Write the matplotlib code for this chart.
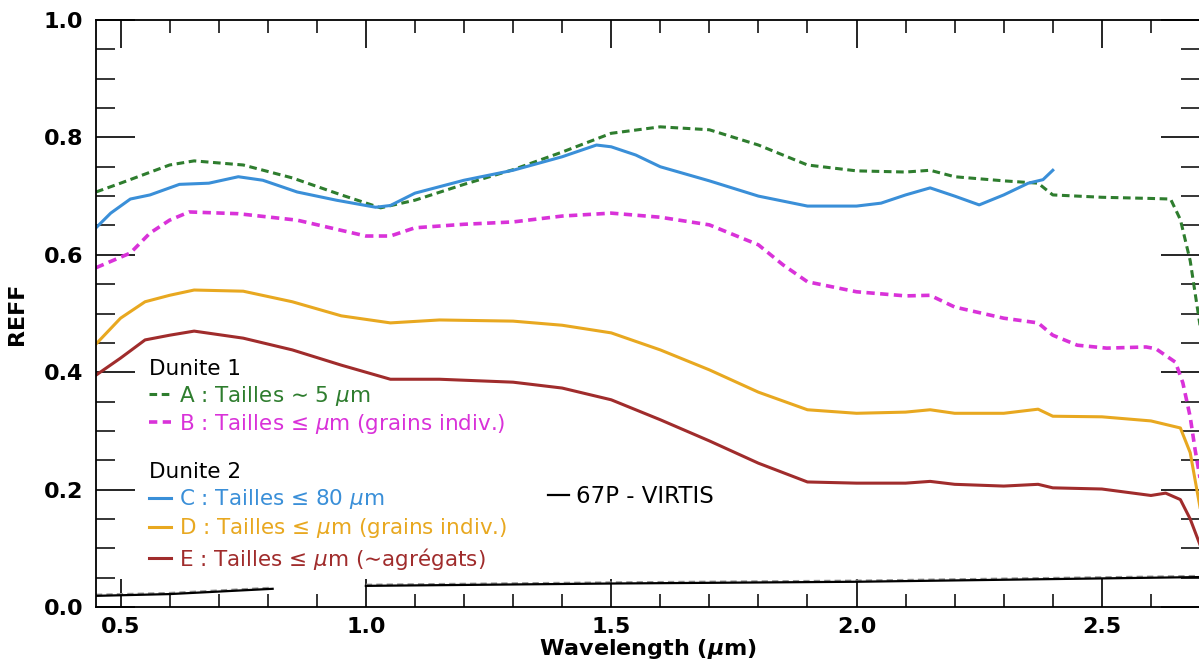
import matplotlib
matplotlib.use("Agg")
import matplotlib.pyplot as plt
import numpy as np

plt.rcParams['font.family'] = ['DejaVu Sans']
plt.rcParams['mathtext.fontset'] = 'custom'
plt.rcParams['mathtext.rm'] = 'DejaVu Sans'
plt.rcParams['mathtext.it'] = 'DejaVu Sans:italic'
plt.rcParams['mathtext.bf'] = 'DejaVu Sans:bold'
plt.rcParams['mathtext.bfit'] = 'DejaVu Sans:italic:bold'

# ---------------- data ----------------
wl_A = [0.45, 0.50, 0.60, 0.65, 0.75, 0.85, 0.95, 1.03, 1.10, 1.20, 1.30, 1.40, 1.50, 1.60,
        1.70, 1.80, 1.90, 2.00, 2.10, 2.15, 2.20, 2.30, 2.37, 2.40, 2.50, 2.60, 2.64, 2.66,
        2.68, 2.70]
ref_A = [0.707, 0.722, 0.753, 0.760, 0.753, 0.731, 0.702, 0.680, 0.693, 0.720, 0.745, 0.775,
         0.807, 0.818, 0.813, 0.787, 0.753, 0.743, 0.741, 0.744, 0.733, 0.726, 0.722, 0.702,
         0.698, 0.696, 0.695, 0.660, 0.590, 0.480]

wl_B = [0.45, 0.52, 0.56, 0.60, 0.64, 0.74, 0.86, 1.00, 1.05, 1.10, 1.20, 1.30, 1.40, 1.50,
        1.60, 1.70, 1.80, 1.85, 1.90, 2.00, 2.10, 2.15, 2.20, 2.30, 2.37, 2.40, 2.45, 2.51,
        2.59, 2.61, 2.65, 2.665, 2.68, 2.69, 2.70]
ref_B = [0.578, 0.603, 0.637, 0.659, 0.673, 0.670, 0.659, 0.632, 0.632, 0.646, 0.652, 0.656,
         0.666, 0.671, 0.664, 0.651, 0.617, 0.583, 0.554, 0.537, 0.530, 0.531, 0.511, 0.492,
         0.484, 0.463, 0.446, 0.441, 0.443, 0.440, 0.417, 0.382, 0.324, 0.268, 0.220]

wl_C = [0.45, 0.48, 0.52, 0.56, 0.62, 0.68, 0.74, 0.79, 0.86, 0.94, 1.02, 1.05, 1.10, 1.20,
        1.30, 1.40, 1.47, 1.50, 1.55, 1.60, 1.70, 1.80, 1.90, 2.00, 2.05, 2.10, 2.15, 2.20,
        2.25, 2.30, 2.35, 2.38, 2.40]
ref_C = [0.646, 0.671, 0.695, 0.702, 0.720, 0.722, 0.733, 0.727, 0.707, 0.693, 0.681, 0.684,
         0.705, 0.727, 0.744, 0.767, 0.787, 0.784, 0.770, 0.750, 0.726, 0.700, 0.683, 0.683,
         0.688, 0.702, 0.714, 0.700, 0.685, 0.702, 0.722, 0.728, 0.744]

wl_D = [0.45, 0.50, 0.55, 0.60, 0.65, 0.75, 0.85, 0.95, 1.05, 1.15, 1.30, 1.40, 1.50, 1.60,
        1.70, 1.80, 1.90, 2.00, 2.10, 2.15, 2.20, 2.30, 2.37, 2.40, 2.50, 2.60, 2.66, 2.68,
        2.70]
ref_D = [0.448, 0.492, 0.520, 0.531, 0.540, 0.538, 0.520, 0.496, 0.484, 0.489, 0.487, 0.480,
         0.467, 0.438, 0.404, 0.366, 0.336, 0.330, 0.332, 0.336, 0.330, 0.330, 0.337, 0.325,
         0.324, 0.317, 0.305, 0.263, 0.170]

wl_E = [0.45, 0.50, 0.55, 0.60, 0.65, 0.75, 0.85, 0.95, 1.05, 1.15, 1.30, 1.40, 1.50, 1.60,
        1.70, 1.80, 1.90, 2.00, 2.10, 2.15, 2.20, 2.30, 2.37, 2.40, 2.50, 2.60, 2.63, 2.66,
        2.68, 2.70]
ref_E = [0.395, 0.424, 0.455, 0.463, 0.470, 0.458, 0.438, 0.412, 0.388, 0.388, 0.383, 0.373,
         0.353, 0.319, 0.283, 0.245, 0.213, 0.211, 0.211, 0.214, 0.209, 0.206, 0.209, 0.203,
         0.201, 0.190, 0.194, 0.183, 0.150, 0.106]

wl_V1 = [0.45, 0.60, 0.81]
ref_V1 = [0.019, 0.022, 0.031]
wl_V2 = [1.00, 1.50, 2.00, 2.70]
ref_V2 = [0.036, 0.040, 0.043, 0.051]

labels_1 = ["A : Tailles \u223c 5 $\\mu$m", "B : Tailles \u2264 $\\mu$m (grains indiv.)"]
labels_2 = ["C : Tailles \u2264 80 $\\mu$m", "D : Tailles \u2264 $\\mu$m (grains indiv.)",
            "E : Tailles \u2264 $\\mu$m (\u223cagr\u00e9gats)"]
label_V = "67P - VIRTIS"

c_A, c_B, c_C, c_D, c_E = "#2e7d2e", "#d932d9", "#3a8fd8", "#e8a820", "#a02c2c"

# ---------------- figure ----------------
fig = plt.figure(figsize=(11.99, 6.63), dpi=100)
ax = fig.add_axes([96 / 1199, 56 / 663, 1104 / 1199, 587 / 663])

lw = 2.2
lA, = ax.plot(wl_A, ref_A, color=c_A, lw=lw, dashes=(2.5, 1.5), label=labels_1[0])
lB, = ax.plot(wl_B, ref_B, color=c_B, lw=lw + 0.4, dashes=(2.3, 1.5), label=labels_1[1])
lC, = ax.plot(wl_C, ref_C, color=c_C, lw=lw, label=labels_2[0])
lD, = ax.plot(wl_D, ref_D, color=c_D, lw=lw, label=labels_2[1])
lE, = ax.plot(wl_E, ref_E, color=c_E, lw=lw, label=labels_2[2])

ax.plot(wl_V1, np.array(ref_V1) + 0.002, color="#999999", lw=1.5, dashes=(3, 2))
ax.plot(wl_V2, np.array(ref_V2) + 0.002, color="#999999", lw=1.5, dashes=(3, 2))
lV, = ax.plot(wl_V1, ref_V1, color="black", lw=1.6, label=label_V)
ax.plot(wl_V2, ref_V2, color="black", lw=1.6)

ax.set_xlim(0.45, 2.70)
ax.set_ylim(0.0, 1.0)
ax.set_xticks([0.5, 1.0, 1.5, 2.0, 2.5])
ax.set_xticks(np.arange(0.5, 2.71, 0.1), minor=True)
ax.set_yticks([0.0, 0.2, 0.4, 0.6, 0.8, 1.0])
ax.set_yticks(np.arange(0.0, 1.001, 0.05), minor=True)
ax.set_xticklabels(["0.5", "1.0", "1.5", "2.0", "2.5"])
ax.set_yticklabels(["0.0", "0.2", "0.4", "0.6", "0.8", "1.0"])

ax.tick_params(axis='x', which='major', direction='in', length=20, width=1.2,
               top=True, bottom=True, labelsize=16, pad=7)
ax.tick_params(axis='x', which='minor', direction='in', length=9.5, width=1.1,
               top=True, bottom=True)
ax.tick_params(axis='y', which='major', direction='in', length=28, width=1.2,
               left=True, right=True, labelsize=16, pad=9)
ax.tick_params(axis='y', which='minor', direction='in', length=14, width=1.1,
               left=True, right=True)
for t in ax.get_xticklabels() + ax.get_yticklabels():
    t.set_fontweight('bold')
for s in ax.spines.values():
    s.set_linewidth(1.3)

ax.set_xlabel("Wavelength ($\\mathbfit{\\mu}$m)", fontsize=16, fontweight='bold', labelpad=0)
ax.set_ylabel("REFF", fontsize=16, fontweight='bold', labelpad=12)

common = dict(frameon=False, fontsize=15.5, title_fontsize=15.5, handlelength=1.0,
              handletextpad=0.4, labelcolor='linecolor', alignment='left',
              borderpad=0, borderaxespad=0)
leg1 = ax.legend(handles=[lA, lB], title="Dunite 1", loc='upper left',
                 bbox_to_anchor=(0.048, 0.422), labelspacing=0.2, **common)
ax.add_artist(leg1)
leg2 = ax.legend(handles=[lC, lD, lE], title="Dunite 2", loc='upper left',
                 bbox_to_anchor=(0.048, 0.247), labelspacing=0.24, **common)
ax.add_artist(leg2)
leg3 = ax.legend(handles=[lV], loc='upper left', bbox_to_anchor=(0.409, 0.207),
                 frameon=False, fontsize=16.5, handlelength=0.95, handletextpad=0.3,
                 borderpad=0, borderaxespad=0)

fig.savefig("out.png", dpi=100)
